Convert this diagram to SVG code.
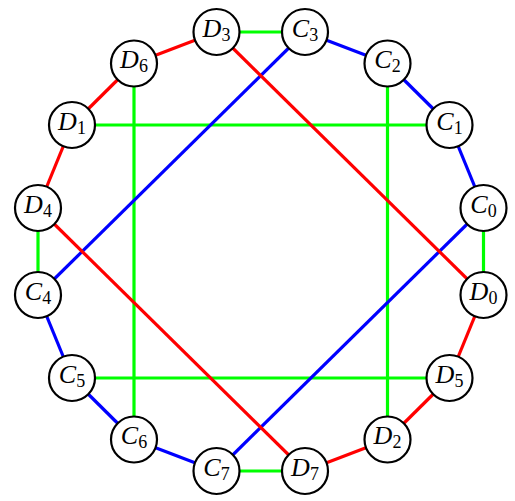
<svg xmlns="http://www.w3.org/2000/svg" width="515" height="501" viewBox="0 0 515 501">
<style>
.r{stroke:#ff0000;stroke-width:3.2;fill:none}
.g{stroke:#00ff00;stroke-width:3.2;fill:none}
.b{stroke:#0000ff;stroke-width:3.2;fill:none}
.n circle{fill:#ffffff;stroke:#000000;stroke-width:2.2}
.n text{font-family:"Liberation Serif","Times New Roman",serif;font-size:26px;font-style:italic;text-anchor:middle;fill:#000}
.n tspan{font-style:normal;font-size:18px}
</style>
<rect width="515" height="501" fill="#ffffff"/>
<g id="connectors">
<line class="g" x1="216.5" y1="32" x2="305" y2="32"/>
<line class="g" x1="38" y1="208" x2="38" y2="295"/>
<line class="g" x1="483.5" y1="208" x2="483.5" y2="295"/>
<line class="g" x1="216.5" y1="471" x2="305" y2="471"/>
<line class="g" x1="72" y1="125" x2="449.5" y2="125"/>
<line class="g" x1="72" y1="378" x2="449.5" y2="378"/>
<line class="g" x1="134" y1="63.5" x2="134" y2="439.5"/>
<line class="g" x1="387.5" y1="63.5" x2="387.5" y2="439.5"/>
<line class="b" x1="305" y1="32" x2="387.5" y2="63.5"/>
<line class="b" x1="387.5" y1="63.5" x2="449.5" y2="125"/>
<line class="b" x1="449.5" y1="125" x2="483.5" y2="208"/>
<line class="b" x1="38" y1="295" x2="72" y2="378"/>
<line class="b" x1="72" y1="378" x2="134" y2="439.5"/>
<line class="b" x1="134" y1="439.5" x2="216.5" y2="471"/>
<line class="b" x1="305" y1="32" x2="38" y2="295"/>
<line class="b" x1="483.5" y1="208" x2="216.5" y2="471"/>
<line class="r" x1="216.5" y1="32" x2="134" y2="63.5"/>
<line class="r" x1="134" y1="63.5" x2="72" y2="125"/>
<line class="r" x1="72" y1="125" x2="38" y2="208"/>
<line class="r" x1="483.5" y1="295" x2="449.5" y2="378"/>
<line class="r" x1="449.5" y1="378" x2="387.5" y2="439.5"/>
<line class="r" x1="387.5" y1="439.5" x2="305" y2="471"/>
<line class="r" x1="216.5" y1="32" x2="483.5" y2="295"/>
<line class="r" x1="38" y1="208" x2="305" y2="471"/>
</g>
<g id="D3" class="n" transform="translate(216.5,32)"><circle r="23"/><text y="4.5">D<tspan dy="4">3</tspan></text></g>
<g id="C3" class="n" transform="translate(305,32)"><circle r="23"/><text y="4.5">C<tspan dy="4">3</tspan></text></g>
<g id="D6" class="n" transform="translate(134,63.5)"><circle r="23"/><text y="4.5">D<tspan dy="4">6</tspan></text></g>
<g id="C2" class="n" transform="translate(387.5,63.5)"><circle r="23"/><text y="4.5">C<tspan dy="4">2</tspan></text></g>
<g id="D1" class="n" transform="translate(72,125)"><circle r="23"/><text y="4.5">D<tspan dy="4">1</tspan></text></g>
<g id="C1" class="n" transform="translate(449.5,125)"><circle r="23"/><text y="4.5">C<tspan dy="4">1</tspan></text></g>
<g id="D4" class="n" transform="translate(38,208)"><circle r="23"/><text y="4.5">D<tspan dy="4">4</tspan></text></g>
<g id="C0" class="n" transform="translate(483.5,208)"><circle r="23"/><text y="4.5">C<tspan dy="4">0</tspan></text></g>
<g id="C4" class="n" transform="translate(38,295)"><circle r="23"/><text y="4.5">C<tspan dy="4">4</tspan></text></g>
<g id="D0" class="n" transform="translate(483.5,295)"><circle r="23"/><text y="4.5">D<tspan dy="4">0</tspan></text></g>
<g id="C5" class="n" transform="translate(72,378)"><circle r="23"/><text y="4.5">C<tspan dy="4">5</tspan></text></g>
<g id="D5" class="n" transform="translate(449.5,378)"><circle r="23"/><text y="4.5">D<tspan dy="4">5</tspan></text></g>
<g id="C6" class="n" transform="translate(134,439.5)"><circle r="23"/><text y="4.5">C<tspan dy="4">6</tspan></text></g>
<g id="D2" class="n" transform="translate(387.5,439.5)"><circle r="23"/><text y="4.5">D<tspan dy="4">2</tspan></text></g>
<g id="C7" class="n" transform="translate(216.5,471)"><circle r="23"/><text y="4.5">C<tspan dy="4">7</tspan></text></g>
<g id="D7" class="n" transform="translate(305,471)"><circle r="23"/><text y="4.5">D<tspan dy="4">7</tspan></text></g>
</svg>
